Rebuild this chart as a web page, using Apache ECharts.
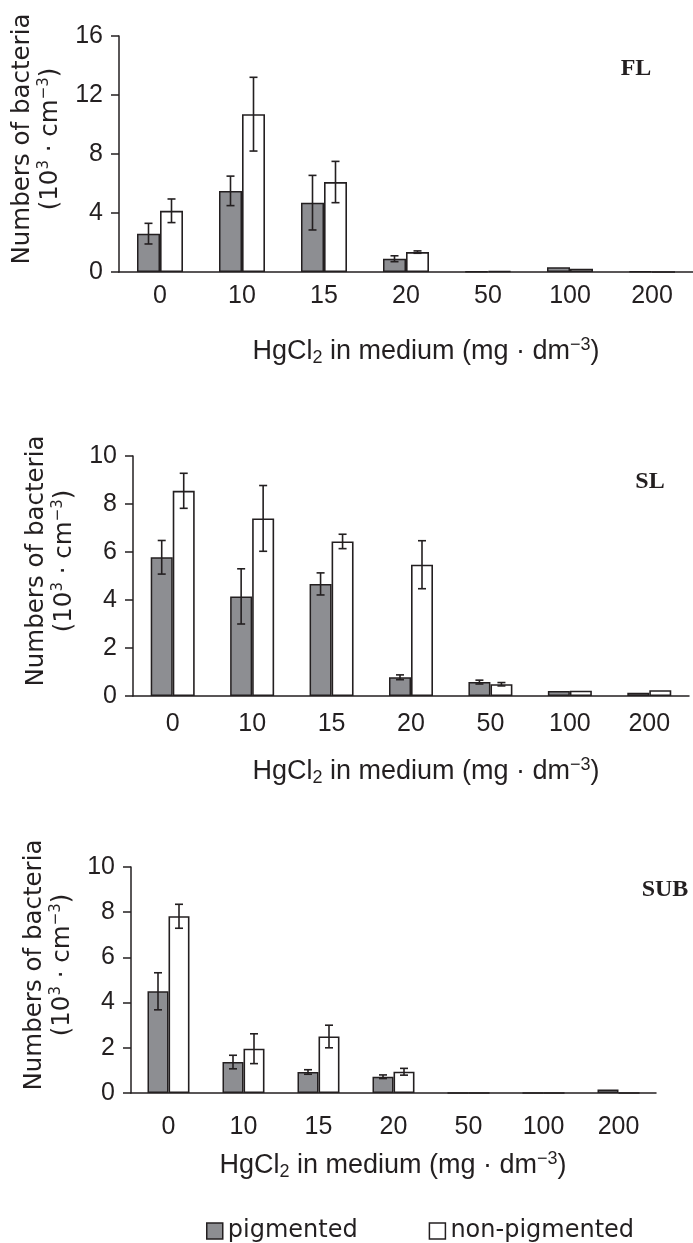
<!DOCTYPE html>
<html>
<head>
<meta charset="utf-8">
<script src="https://cdn.jsdelivr.net/npm/echarts@6/dist/echarts.min.js"></script>
<style>
  html, body { margin: 0; padding: 0; background: #ffffff; }
  #chart { width: 693px; height: 1243px; }
</style>
</head>
<body>
<div id="chart"></div>
<script>
// ---- data ----
const categories = ['0', '10', '15', '20', '50', '100', '200'];

const flPigmented     = [2.6, 5.5, 4.7, 0.9, 0.03, 0.32, 0.05];
const flPigmentedErr  = [0.7, 1.0, 1.85, 0.2, 0, 0, 0];
const flNonPigmented  = [4.15, 10.7, 6.1, 1.35, 0.06, 0.22, 0];
const flNonPigmentedErr = [0.8, 2.5, 1.4, 0.08, 0, 0, 0];

const slPigmented     = [5.78, 4.15, 4.67, 0.78, 0.58, 0.21, 0.14];
const slPigmentedErr  = [0.7, 1.15, 0.46, 0.1, 0.08, 0, 0];
const slNonPigmented  = [8.55, 7.4, 6.44, 5.47, 0.49, 0.22, 0.24];
const slNonPigmentedErr = [0.73, 1.37, 0.3, 1.0, 0.07, 0, 0];

const subPigmented    = [4.5, 1.37, 0.93, 0.72, 0, 0, 0.15];
const subPigmentedErr = [0.82, 0.3, 0.1, 0.08, 0, 0, 0];
const subNonPigmented = [7.82, 1.96, 2.5, 0.94, 0, 0, 0];
const subNonPigmentedErr = [0.53, 0.66, 0.5, 0.15, 0, 0, 0];

const flTicks  = { max: 16, interval: 4 };
const slTicks  = { max: 10, interval: 2 };
const subTicks = { max: 10, interval: 2 };

const panelLabels = ['FL', 'SL', 'SUB'];
const seriesNames = ['pigmented', 'non-pigmented'];

// ---- styles ----
const DARK = '#231f20';
const GRAY = '#8d8e92';
const TICK_FONT = 'Liberation Sans';
const TITLE_FONT = 'DejaVu Sans';

const panels = [
  { pig: flPigmented, pigErr: flPigmentedErr, non: flNonPigmented, nonErr: flNonPigmentedErr,
    ticks: flTicks, grid: { left: 119, top: 36, width: 588, height: 236 }, barW: 23, labelMargin: 12,
    nameGap: 50, label: panelLabels[0], labelPos: [636, 69], xTitlePos: [426, 352] },
  { pig: slPigmented, pigErr: slPigmentedErr, non: slNonPigmented, nonErr: slNonPigmentedErr,
    ticks: slTicks, grid: { left: 133, top: 456, width: 556, height: 240 }, barW: 22, labelMargin: 16,
    nameGap: 49, label: panelLabels[1], labelPos: [650, 482], xTitlePos: [426, 772] },
  { pig: subPigmented, pigErr: subPigmentedErr, non: subNonPigmented, nonErr: subNonPigmentedErr,
    ticks: subTicks, grid: { left: 131, top: 867, width: 525, height: 226 }, barW: 21, labelMargin: 22,
    nameGap: 46, label: panelLabels[2], labelPos: [665, 890], xTitlePos: [393, 1166] }
];

const grids = [], xAxes = [], yAxes = [], series = [], graphics = [];

function errorSeries(idx, values, errs, offsetSign, barW) {
  const data = [];
  values.forEach((v, i) => { if (errs[i] > 0) data.push([i, v, errs[i]]); });
  return {
    type: 'custom',
    xAxisIndex: idx, yAxisIndex: idx,
    z: 10,
    silent: true,
    data: data,
    encode: { x: 0, y: 1 },
    renderItem: function (params, api) {
      const i = api.value(0), v = api.value(1), e = api.value(2);
      const hi = api.coord([i, v + e]);
      const lo = api.coord([i, v - e]);
      const x = hi[0] + offsetSign * barW / 2;
      const cap = 4;
      const st = { stroke: DARK, lineWidth: 1.6 };
      return {
        type: 'group',
        children: [
          { type: 'line', shape: { x1: x, y1: hi[1], x2: x, y2: lo[1] }, style: st },
          { type: 'line', shape: { x1: x - cap, y1: hi[1], x2: x + cap, y2: hi[1] }, style: st },
          { type: 'line', shape: { x1: x - cap, y1: lo[1], x2: x + cap, y2: lo[1] }, style: st }
        ]
      };
    }
  };
}

panels.forEach((p, idx) => {
  grids.push(Object.assign({}, p.grid));
  xAxes.push({
    type: 'category', gridIndex: idx, data: categories, boundaryGap: true,
    axisLine: { show: true, lineStyle: { color: DARK, width: 1.5 } },
    axisTick: { show: false },
    axisLabel: { color: DARK, fontFamily: TICK_FONT, fontSize: 25, margin: p.labelMargin, interval: 0 }
  });
  yAxes.push({
    type: 'value', gridIndex: idx, min: 0, max: p.ticks.max, interval: p.ticks.interval,
    axisLine: { show: true, lineStyle: { color: DARK, width: 1.5 } },
    axisTick: { show: true, length: 8, lineStyle: { color: DARK, width: 1.5 } },
    splitLine: { show: false },
    axisLabel: { color: DARK, fontFamily: TICK_FONT, fontSize: 25, margin: 16 },
    name: 'Numbers of bacteria\n(10{sup|3} · cm{sup|−3})',
    nameLocation: 'middle',
    nameRotate: 90,
    nameGap: p.nameGap,
    nameTextStyle: {
      color: DARK, fontFamily: TITLE_FONT, fontSize: 24.5, lineHeight: 28,
      padding: [0, 0, 0, 30],
      rich: {
        sup: { color: DARK, fontFamily: TITLE_FONT, fontSize: 15, lineHeight: 12, verticalAlign: 'top' }
      }
    }
  });
  series.push({
    name: seriesNames[0], type: 'bar', xAxisIndex: idx, yAxisIndex: idx,
    data: p.pig, barWidth: p.barW, barGap: '0%',
    itemStyle: { color: GRAY, borderColor: DARK, borderWidth: 1.5 }
  });
  series.push({
    name: seriesNames[1], type: 'bar', xAxisIndex: idx, yAxisIndex: idx,
    data: p.non, barWidth: p.barW, barGap: '0%',
    itemStyle: { color: '#ffffff', borderColor: DARK, borderWidth: 1.6 }
  });
  series.push(errorSeries(idx, p.pig, p.pigErr, -1, p.barW));
  series.push(errorSeries(idx, p.non, p.nonErr, 1, p.barW));

  graphics.push({
    type: 'text', x: p.labelPos[0], y: p.labelPos[1],
    style: { text: p.label, fill: DARK, fontFamily: 'Liberation Serif', fontWeight: 'bold', fontSize: 24,
             align: 'center', verticalAlign: 'middle' }
  });
  graphics.push({
    type: 'text', x: p.xTitlePos[0], y: p.xTitlePos[1],
    style: {
      text: 'HgCl{sub|2} in medium (mg · dm{sup|−3})',
      fill: DARK, fontFamily: TICK_FONT, fontSize: 27, lineHeight: 31,
      align: 'center', verticalAlign: 'middle',
      rich: {
        sub: { fill: DARK, fontFamily: TICK_FONT, fontSize: 18, lineHeight: 12, verticalAlign: 'bottom' },
        sup: { fill: DARK, fontFamily: TICK_FONT, fontSize: 18, lineHeight: 12, verticalAlign: 'top' }
      }
    }
  });
});

const chart = echarts.init(document.getElementById('chart'), null, { renderer: 'canvas' });
chart.setOption({
  animation: false,
  backgroundColor: '#ffffff',
  grid: grids,
  xAxis: xAxes,
  yAxis: yAxes,
  series: series,
  graphic: graphics,
  legend: {
    data: seriesNames,
    left: 201, top: 1214,
    icon: 'rect', itemWidth: 16, itemHeight: 16, itemGap: 71,
    itemStyle: { borderColor: DARK, borderWidth: 1.5 },
    textStyle: { color: DARK, fontFamily: TITLE_FONT, fontSize: 24 }
  }
});
</script>
</body>
</html>
